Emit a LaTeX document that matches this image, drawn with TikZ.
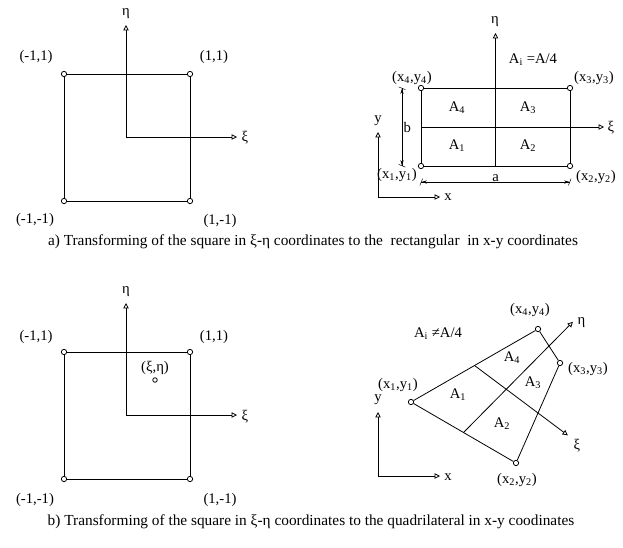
\documentclass[tikz,border=0pt]{standalone}
\usepackage{fontspec}
\setmainfont{Liberation Serif}
\usetikzlibrary{arrows.meta, positioning, calc}
\tikzset{
  every picture/.style={line width=0.6pt, font=\fontsize{11}{13}\selectfont},
  nd/.style={circle, draw, fill=white, minimum size=4pt, inner sep=0pt},
  axis/.style={-{Triangle[open, length=4pt, width=4pt]}},
  dimline/.style={{Bar[width=5pt, slant=0.4]Stealth[length=4pt, width=2.4pt]}-{Stealth[length=4pt, width=2.4pt]Bar[width=5pt, slant=0.4]}, line width=0.4pt},
  lbl/.style={inner sep=1pt},
  note/.style={font=\fontsize{11.5}{13}\selectfont},
}
\begin{document}
\begin{tikzpicture}[x=0.75pt, y=-0.75pt]
  \useasboundingbox (0,0) rectangle (623,547);
  % (a) left: the square in xi-eta
  \node[nd] (s1) at (64,201) {};
  \node[nd] (s2) at (190,201) {};
  \node[nd] (s3) at (190,74) {};
  \node[nd] (s4) at (64,74) {};
  \draw (s1) -- (s2) -- (s3) -- (s4) -- (s1);
  \coordinate (o1) at (126,137);
  \node[lbl] (eta1) at (126,14) {η};
  \node[lbl, anchor=west] (xi1) at (240,138) {ξ};
  \draw[axis] (o1) -- (126,25);
  \draw[axis] (o1) -- (237,137);
  \node[lbl] at (36,57) {(-1,1)};
  \node[lbl] at (214,57) {(1,1)};
  \node[lbl] at (35,220) {(-1,-1)};
  \node[lbl] at (220,221) {(1,-1)};
  % (a) right: the rectangle in x-y
  \node[nd] (r1) at (421,166) {};
  \node[nd] (r2) at (570,166) {};
  \node[nd] (r3) at (570,88) {};
  \node[nd] (r4) at (421,88) {};
  \draw (r1) -- (r2) -- (r3) -- (r4) -- (r1);
  \coordinate (rb) at ($(r1)!0.5!(r2)$);
  \coordinate (rl) at ($(r1)!0.5!(r4)$);
  \draw[axis] (rb) -- (rb |- 0,33);
  \draw[axis] (rl) -- (604,127);
  \node[lbl] at (495,22) {η};
  \node[lbl, anchor=west] at (606,128) {ξ};
  \node[lbl] at (533,60) {A\textsubscript{i} =A/4};
  \node[lbl] at (457,108) {A\textsubscript{4}};
  \node[lbl] at (528,108) {A\textsubscript{3}};
  \node[lbl] at (457,146) {A\textsubscript{1}};
  \node[lbl] at (528,146) {A\textsubscript{2}};
  \node[lbl] at (412,78) {(x\textsubscript{4},y\textsubscript{4})};
  \node[lbl] at (594,78) {(x\textsubscript{3},y\textsubscript{3})};
  \node[lbl] at (397,175) {(x\textsubscript{1},y\textsubscript{1})};
  \node[lbl] at (596,177) {(x\textsubscript{2},y\textsubscript{2})};
  \coordinate (da1) at (421,182);
  \coordinate (da2) at (570,182);
  \draw[dimline] (da1) -- node[lbl, above=-1pt] {a} (da2);
  \coordinate (db1) at (402,88);
  \coordinate (db2) at (402,166);
  \draw[dimline] (db1) -- node[lbl, right=0pt] {b} (db2);
  \coordinate (xy1) at (378,197);
  \draw[axis] (xy1) -- (378,132);
  \draw[axis] (xy1) -- (440,197);
  \node[lbl] at (378,121) {y};
  \node[lbl] at (448,197) {x};
  \node[note] at (313,242) {a) Transforming of the square in ξ-η coordinates to the \ rectangular \ in x-y coordinates};
  % (b) left: the square with a point
  \begin{scope}[yshift=-278*0.75pt]
  \node[nd] (t1) at (64,201) {};
  \node[nd] (t2) at (190,201) {};
  \node[nd] (t3) at (190,74) {};
  \node[nd] (t4) at (64,74) {};
  \draw (t1) -- (t2) -- (t3) -- (t4) -- (t1);
  \coordinate (o2) at (126,137);
  \draw[axis] (o2) -- (126,25);
  \draw[axis] (o2) -- (237,137);
  \node[lbl] at (126,14) {η};
  \node[lbl, anchor=west] at (240,139) {ξ};
  \node[nd, minimum size=3.4pt] (pt) at (155,102) {};
  \node[lbl, above=1pt of pt] {(ξ,η)};
  \node[lbl] at (36,59) {(-1,1)};
  \node[lbl] at (214,59) {(1,1)};
  \node[lbl] at (35,222) {(-1,-1)};
  \node[lbl] at (220,222) {(1,-1)};
  \end{scope}
  % (b) right: the quadrilateral
  \node[nd] (p1) at (411,402) {};
  \node[nd] (p2) at (516,463) {};
  \node[nd] (p3) at (560,363) {};
  \node[nd] (p4) at (538,329) {};
  \draw (p1) -- (p2) -- (p3) -- (p4) -- (p1);
  \coordinate (m12) at ($(p1)!0.5!(p2)$);
  \coordinate (m43) at ($(p4)!0.5!(p3)$);
  \coordinate (m14) at ($(p1)!0.5!(p4)$);
  \coordinate (m23) at ($(p2)!0.5!(p3)$);
  \coordinate (etatip) at ($(m12)!1.28!(m43)$);
  \coordinate (xitip) at ($(m14)!1.47!(m23)$);
  \draw[axis] (m12) -- (etatip);
  \draw[axis] (m14) -- (xitip);
  \node[lbl, anchor=west] at ($(etatip)+(3,1)$) {η};
  \node[lbl, anchor=west] at ($(xitip)+(4,10)$) {ξ};
  \node[lbl] at (438,334) {A\textsubscript{i} ≠A/4};
  \node[lbl] at (512,358) {A\textsubscript{4}};
  \node[lbl] at (533,383) {A\textsubscript{3}};
  \node[lbl] at (458,395) {A\textsubscript{1}};
  \node[lbl] at (502,424) {A\textsubscript{2}};
  \node[lbl] at (530,310) {(x\textsubscript{4},y\textsubscript{4})};
  \node[lbl] at (588,369) {(x\textsubscript{3},y\textsubscript{3})};
  \node[lbl] at (398,385) {(x\textsubscript{1},y\textsubscript{1})};
  \node[lbl] at (517,480) {(x\textsubscript{2},y\textsubscript{2})};
  \coordinate (xy2) at (378,476);
  \draw[axis] (xy2) -- (378,412);
  \draw[axis] (xy2) -- (440,476);
  \node[lbl] at (378,400) {y};
  \node[lbl] at (448,477) {x};
  \node[note] at (311,522) {b) Transforming of the square in ξ-η coordinates to the quadrilateral in x-y coodinates};
\end{tikzpicture}
\end{document}
